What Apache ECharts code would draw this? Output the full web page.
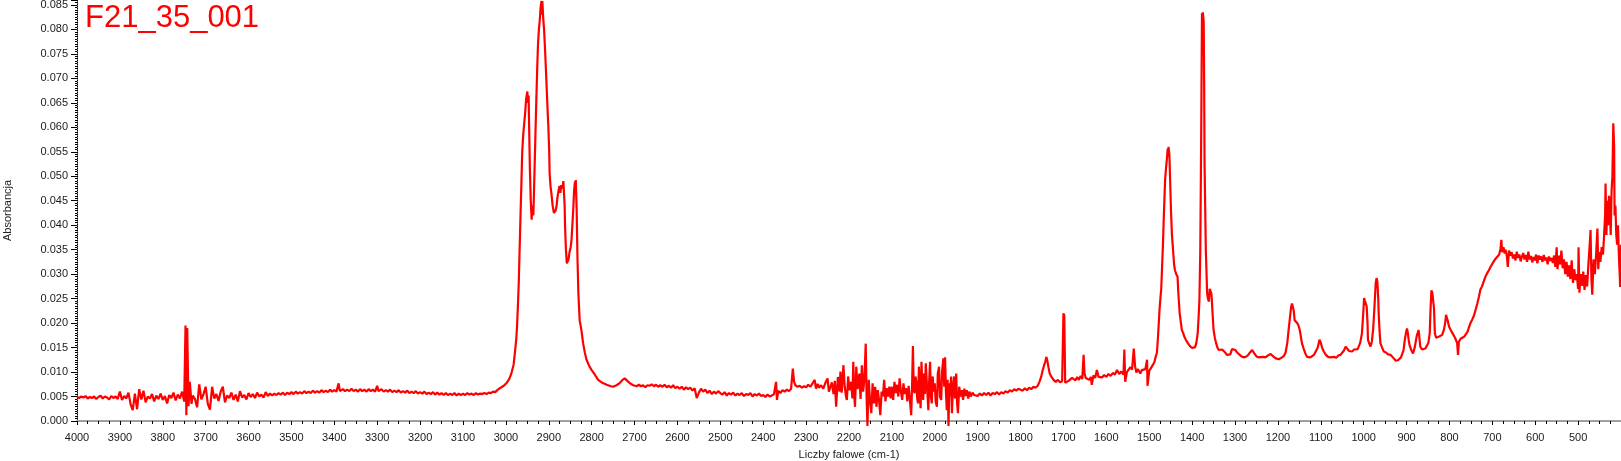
<!DOCTYPE html>
<html>
<head>
<meta charset="utf-8">
<title>F21_35_001</title>
<script src="https://cdn.jsdelivr.net/npm/echarts@6/dist/echarts.min.js"></script>
<style>
  html, body { margin: 0; padding: 0; background: #fff; }
  #chart { width: 1621px; height: 461px; }
</style>
</head>
<body>
<div id="chart"></div>
<script>
// widma IR: pary [liczba falowa, absorbancja]
const sampleName = 'F21_35_001'

// 4000 - 3550, zaszumiona linia bazowa z pikiem ~3745
const regionHighNoise = [
  [4000, .0049], [3995, .0047], [3990, .0050], [3985, .0048], [3980, .0051], [3975, .0046], [3970, .0049],
  [3965, .0047], [3960, .0050], [3955, .0045], [3950, .0049], [3945, .0052], [3940, .0046], [3935, .0050],
  [3930, .0048], [3925, .0044], [3920, .0051], [3915, .0047], [3910, .0050], [3905, .0045], [3900, .0060],
  [3895, .0043], [3890, .0051], [3885, .0046], [3880, .0058], [3875, .0034], [3870, .0022], [3865, .0056],
  [3860, .0024], [3855, .0065], [3850, .0044], [3845, .0062], [3840, .0038], [3835, .0050], [3830, .0046],
  [3825, .0055], [3820, .0040], [3815, .0052], [3810, .0045], [3805, .0056], [3800, .0043], [3795, .0051],
  [3790, .0036], [3785, .0053], [3780, .0047], [3775, .0058], [3770, .0042], [3765, .0054], [3760, .0046],
  [3755, .0060], [3750, .0040], [3747, .0195], [3745, .0012], [3743, .0190], [3740, .0030], [3737, .0080],
  [3733, .0035], [3730, .0052], [3725, .0045], [3720, .0028], [3715, .0075], [3710, .0044], [3705, .0055],
  [3700, .0070], [3695, .0035], [3690, .0023], [3685, .0070], [3680, .0046], [3675, .0055], [3670, .0041],
  [3665, .0060], [3660, .0070], [3655, .0038], [3650, .0052], [3645, .0047], [3640, .0058], [3635, .0043],
  [3630, .0054], [3625, .0040], [3620, .0061], [3615, .0048], [3610, .0053], [3605, .0044], [3600, .0057],
  [3595, .0049], [3590, .0055], [3585, .0047], [3580, .0058], [3575, .0050], [3570, .0054], [3565, .0048],
  [3560, .0059], [3555, .0051], [3550, .0056]
]

// 3545 - 3020, gladsza linia bazowa
const regionHighBase = [
  [3545, .0052], [3540, .0056], [3535, .0053], [3530, .0057], [3525, .0054], [3520, .0058], [3515, .0053],
  [3510, .0058], [3505, .0055], [3500, .0059], [3495, .0055], [3490, .0060], [3485, .0056], [3480, .0059],
  [3475, .0056], [3470, .0061], [3465, .0057], [3460, .0060], [3455, .0057], [3450, .0062], [3445, .0058],
  [3440, .0061], [3435, .0058], [3430, .0063], [3425, .0059], [3420, .0062], [3415, .0059], [3410, .0064],
  [3405, .0060], [3400, .0063], [3395, .0060], [3390, .0077], [3387, .0061], [3380, .0065], [3375, .0061],
  [3370, .0064], [3365, .0061], [3360, .0066], [3355, .0061], [3350, .0064], [3345, .0060], [3340, .0065],
  [3335, .0061], [3330, .0064], [3325, .0060], [3320, .0065], [3315, .0061], [3310, .0064], [3305, .0060],
  [3300, .0072], [3297, .0061], [3290, .0065], [3285, .0060], [3280, .0063], [3275, .0060], [3270, .0064],
  [3265, .0059], [3260, .0062], [3255, .0059], [3250, .0063], [3245, .0058], [3240, .0061], [3235, .0058],
  [3230, .0062], [3225, .0057], [3220, .0060], [3215, .0057], [3210, .0061], [3205, .0056], [3200, .0059],
  [3195, .0056], [3190, .0060], [3185, .0055], [3180, .0058], [3175, .0055], [3170, .0059], [3165, .0054],
  [3160, .0058], [3155, .0054], [3150, .0057], [3145, .0053], [3140, .0057], [3135, .0053], [3130, .0056],
  [3125, .0053], [3120, .0057], [3115, .0052], [3110, .0056], [3105, .0053], [3100, .0056], [3095, .0053],
  [3090, .0057], [3085, .0054], [3080, .0056], [3075, .0053], [3070, .0057], [3065, .0054], [3060, .0056],
  [3055, .0055], [3050, .0057], [3045, .0055], [3040, .0058], [3035, .0057], [3030, .0060], [3025, .0059],
  [3020, .0063]
]

// 3014 - 2555, pasma C-H
const regionCH = [
  [3014, .0067], [3005, .0072], [2999, .0077], [2992, .0086], [2987, .0098], [2982, .0115], [2979, .0139],
  [2976, .0165], [2974, .0193], [2972, .0235], [2970, .0282], [2968, .0350], [2966, .0417], [2964, .0480],
  [2962, .0547], [2960, .0580], [2958, .0601], [2955, .0630], [2953, .0656], [2951, .0668], [2950, .0673],
  [2948, .0650], [2947, .0665], [2946, .0610], [2944, .0513], [2942, .0450], [2940, .0411], [2938, .0440],
  [2936, .0420], [2935, .0451], [2933, .0520], [2931, .0590], [2929, .0656], [2927, .0720], [2925, .0772],
  [2923, .0800], [2921, .0819], [2919, .0845], [2917, .0858], [2916, .0830], [2915, .0858], [2913, .0823],
  [2911, .0800], [2909, .0765], [2907, .0725], [2905, .0683], [2903, .0640], [2901, .0601], [2899, .0550],
  [2898, .0506], [2896, .0480], [2894, .0466], [2891, .0440], [2888, .0425], [2886, .0422], [2884, .0430],
  [2882, .0438], [2880, .0455], [2877, .0472], [2875, .0480], [2873, .0466], [2871, .0482], [2868, .0475],
  [2866, .0490], [2865, .0486], [2863, .0440], [2862, .0397], [2860, .0350], [2858, .0322], [2856, .0318],
  [2854, .0330], [2852, .0343], [2849, .0355], [2847, .0370], [2845, .0400], [2843, .0431], [2841, .0470],
  [2839, .0489], [2838, .0475], [2837, .0492], [2835, .0431], [2833, .0330], [2831, .0261], [2828, .0206],
  [2824, .0186], [2820, .0159], [2816, .0140], [2812, .0125], [2806, .0113], [2800, .0104], [2792, .0094],
  [2785, .0084], [2775, .0078], [2765, .0074], [2755, .0071], [2750, .0070], [2742, .0073], [2734, .0078],
  [2728, .0084], [2723, .0087], [2718, .0083], [2711, .0077], [2703, .0073], [2695, .0071], [2690, .0074],
  [2685, .0071], [2680, .0073], [2675, .0069], [2670, .0073], [2665, .0072], [2660, .0075], [2655, .0071],
  [2650, .0074], [2645, .0070], [2640, .0073], [2635, .0070], [2630, .0074], [2625, .0069], [2620, .0072],
  [2615, .0068], [2610, .0073], [2605, .0067], [2600, .0070], [2595, .0066], [2590, .0070], [2585, .0064],
  [2580, .0069], [2575, .0065], [2570, .0068], [2565, .0062], [2560, .0067], [2555, .0047]
]

// 2550 - 1805, szum w zakresie 2250 - 1940
const regionMid = [
  [2550, .0058], [2545, .0066], [2540, .0060], [2535, .0064], [2530, .0057], [2525, .0062], [2520, .0055],
  [2515, .0060], [2510, .0056], [2505, .0061], [2500, .0057], [2495, .0054], [2490, .0059], [2485, .0052],
  [2480, .0057], [2475, .0054], [2470, .0058], [2465, .0052], [2460, .0056], [2455, .0053], [2450, .0057],
  [2445, .0051], [2440, .0055], [2435, .0053], [2430, .0057], [2425, .0050], [2420, .0055], [2415, .0052],
  [2410, .0056], [2405, .0051], [2400, .0053], [2395, .0049], [2390, .0054], [2385, .0050], [2380, .0052],
  [2375, .0055], [2370, .0080], [2368, .0043], [2365, .0062], [2360, .0057], [2355, .0063], [2350, .0060],
  [2345, .0064], [2340, .0061], [2335, .0066], [2331, .0107], [2328, .0080], [2325, .0073], [2320, .0070],
  [2315, .0072], [2310, .0068], [2305, .0071], [2300, .0069], [2295, .0074], [2290, .0070], [2285, .0077],
  [2280, .0084], [2277, .0066], [2273, .0076], [2270, .0068], [2265, .0073], [2260, .0066], [2255, .0078],
  [2250, .0087], [2247, .0060], [2243, .0070], [2240, .0079], [2236, .0055], [2233, .0082], [2230, .0029],
  [2226, .0090], [2222, .0060], [2220, .0101], [2217, .0058], [2213, .0114], [2210, .0070], [2207, .0050],
  [2205, .0043], [2202, .0091], [2199, .0063], [2195, .0080], [2192, .0046], [2190, .0121], [2188, .0055],
  [2186, .0029], [2183, .0111], [2180, .0065], [2176, .0097], [2173, .0045], [2170, .0114], [2167, .0060],
  [2164, .0087], [2161, .0158], [2159, .0050], [2157, -.0010], [2154, .0084], [2151, .0040], [2148, .0016],
  [2145, .0077], [2142, .0036], [2139, .0070], [2136, .0029], [2133, .0063], [2130, .0043], [2127, .0012],
  [2124, .0060], [2121, .0050], [2118, .0084], [2115, .0040], [2112, .0067], [2109, .0050], [2106, .0070],
  [2103, .0046], [2100, .0070], [2097, .0043], [2094, .0080], [2091, .0057], [2088, .0074], [2085, .0050],
  [2082, .0087], [2079, .0060], [2076, .0043], [2073, .0077], [2070, .0055], [2067, .0067], [2064, .0040],
  [2061, .0072], [2058, .0043], [2055, .0012], [2053, .0070], [2051, .0153], [2049, .0063], [2047, .0057],
  [2045, .0091], [2043, .0080], [2041, .0046], [2039, .0036], [2037, .0111], [2035, .0060], [2033, .0026],
  [2031, .0121], [2029, .0065], [2027, .0043], [2025, .0097], [2023, .0055], [2021, .0118], [2018, .0070],
  [2015, .0022], [2013, .0084], [2011, .0121], [2009, .0050], [2007, .0036], [2005, .0091], [2002, .0060],
  [2000, .0077], [1998, .0040], [1995, .0029], [1993, .0097], [1990, .0111], [1988, .0050], [1985, .0043],
  [1983, .0101], [1980, .0128], [1978, .0070], [1976, .0130], [1974, .0060], [1972, .0022], [1970, .0084],
  [1968, -.0010], [1966, .0077], [1964, .0050], [1962, .0091], [1960, .0016], [1958, .0063], [1955, .0091],
  [1953, .0046], [1950, .0097], [1948, .0036], [1946, .0016], [1943, .0070], [1940, .0050], [1937, .0063],
  [1934, .0043], [1931, .0066], [1928, .0051], [1925, .0063], [1922, .0046], [1919, .0060], [1916, .0050],
  [1912, .0058], [1908, .0053], [1904, .0057], [1900, .0051], [1895, .0056], [1890, .0052], [1885, .0057],
  [1880, .0053], [1875, .0058], [1870, .0052], [1865, .0057], [1860, .0055], [1855, .0059], [1850, .0054],
  [1845, .0059], [1840, .0056], [1835, .0061], [1830, .0058], [1825, .0063], [1820, .0060], [1815, .0065],
  [1810, .0062], [1805, .0066]
]

// 1800 - 1245, pasma CH2 / CH3
const regionBend = [
  [1800, .0064], [1795, .0062], [1790, .0067], [1785, .0063], [1780, .0068], [1775, .0065], [1770, .0070],
  [1765, .0068], [1760, .0072], [1756, .0080], [1752, .0090], [1748, .0105], [1745, .0114], [1742, .0122],
  [1740, .0131], [1738, .0125], [1735, .0110], [1732, .0097], [1728, .0090], [1723, .0084], [1718, .0080],
  [1713, .0084], [1708, .0079], [1703, .0081], [1700, .0220], [1698, .0215], [1696, .0078], [1692, .0077],
  [1688, .0082], [1684, .0079], [1680, .0088], [1676, .0091], [1672, .0083], [1668, .0090], [1664, .0084],
  [1660, .0092], [1656, .0086], [1653, .0135], [1651, .0098], [1648, .0088], [1644, .0092], [1640, .0084],
  [1636, .0090], [1634, .0074], [1630, .0093], [1626, .0088], [1622, .0104], [1618, .0090], [1614, .0093],
  [1610, .0089], [1605, .0094], [1600, .0090], [1595, .0096], [1590, .0092], [1585, .0098], [1580, .0095],
  [1575, .0104], [1570, .0096], [1565, .0101], [1560, .0095], [1558, .0146], [1556, .0080], [1552, .0100],
  [1548, .0096], [1544, .0110], [1540, .0105], [1536, .0148], [1533, .0112], [1530, .0099], [1526, .0106],
  [1521, .0097], [1517, .0104], [1513, .0100], [1509, .0106], [1505, .0125], [1504, .0072], [1500, .0102],
  [1496, .0108], [1492, .0104], [1488, .0120], [1485, .0131], [1482, .0140], [1480, .0165], [1476, .0227],
  [1474, .0250], [1472, .0270], [1470, .0315], [1468, .0360], [1466, .0417], [1463, .0492], [1461, .0515],
  [1459, .0533], [1457, .0556], [1456, .0540], [1455, .0560], [1453, .0545], [1451, .0547], [1449, .0424],
  [1447, .0380], [1445, .0356], [1442, .0320], [1440, .0308], [1437, .0300], [1434, .0295], [1432, .0260],
  [1429, .0220], [1426, .0200], [1424, .0186], [1421, .0180], [1418, .0172], [1414, .0165], [1410, .0159],
  [1405, .0153], [1400, .0149], [1396, .0148], [1393, .0151], [1390, .0160], [1387, .0179], [1385, .0210],
  [1383, .0247], [1381, .0343], [1379, .0560], [1377, .0833], [1376, .0810], [1375, .0835], [1373, .0816],
  [1372, .0700], [1371, .0526], [1368, .0349], [1365, .0261], [1363, .0250], [1361, .0244], [1359, .0270],
  [1357, .0274], [1355, .0260], [1354, .0247], [1352, .0215], [1350, .0186], [1347, .0170], [1344, .0159],
  [1341, .0150], [1338, .0145], [1334, .0143], [1330, .0146], [1327, .0145], [1323, .0140], [1319, .0135],
  [1315, .0131], [1311, .0136], [1307, .0147], [1303, .0151], [1299, .0145], [1295, .0140], [1291, .0138],
  [1285, .0132], [1280, .0130], [1275, .0131], [1270, .0134], [1265, .0140], [1260, .0145], [1255, .0138],
  [1250, .0132], [1245, .0130]
]

// 1241 - 801, obszar odcisku palca
const regionFinger = [
  [1241, .0128], [1235, .0131], [1229, .0130], [1223, .0134], [1217, .0137], [1211, .0132], [1205, .0128],
  [1198, .0126], [1192, .0129], [1186, .0133], [1182, .0140], [1178, .0160], [1175, .0186], [1172, .0210],
  [1169, .0234], [1167, .0240], [1165, .0239], [1163, .0225], [1161, .0206], [1158, .0203], [1155, .0200],
  [1152, .0195], [1149, .0186], [1146, .0170], [1144, .0159], [1140, .0148], [1136, .0138], [1132, .0131],
  [1128, .0128], [1124, .0130], [1120, .0132], [1116, .0135], [1112, .0138], [1107, .0150], [1103, .0166],
  [1100, .0160], [1097, .0150], [1093, .0142], [1088, .0135], [1083, .0131], [1078, .0130], [1074, .0128],
  [1069, .0131], [1064, .0129], [1059, .0134], [1054, .0135], [1050, .0138], [1046, .0144], [1042, .0152],
  [1038, .0148], [1034, .0143], [1030, .0140], [1027, .0142], [1022, .0146], [1018, .0143], [1014, .0147],
  [1011, .0148], [1008, .0160], [1004, .0179], [1001, .0220], [999, .0251], [997, .0245], [995, .0240],
  [993, .0234], [991, .0200], [990, .0166], [987, .0158], [984, .0152], [981, .0162], [978, .0186],
  [975, .0230], [972, .0281], [970, .0292], [968, .0285], [966, .0250], [965, .0220], [963, .0185],
  [961, .0159], [957, .0150], [953, .0142], [948, .0140], [943, .0136], [937, .0135], [932, .0130],
  [928, .0127], [925, .0123], [923, .0121], [920, .0124], [916, .0126], [913, .0130], [910, .0131],
  [907, .0145], [904, .0166], [901, .0182], [899, .0189], [897, .0180], [895, .0165], [893, .0155],
  [889, .0145], [885, .0138], [881, .0150], [878, .0165], [876, .0175], [874, .0180], [872, .0186],
  [870, .0170], [868, .0152], [864, .0146], [860, .0142], [856, .0148], [852, .0152], [849, .0160],
  [846, .0179], [844, .0230], [842, .0267], [840, .0262], [838, .0261], [836, .0230], [834, .0179],
  [831, .0170], [829, .0166], [825, .0172], [821, .0169], [817, .0176], [813, .0186], [810, .0200],
  [808, .0217], [806, .0213], [804, .0205], [801, .0193]
]

// 797 - 400, szeroki garb i szum przy koncu zakresu
const regionLow = [
  [797, .0186], [792, .0178], [787, .0170], [782, .0159], [780, .0135], [778, .0162], [774, .0168],
  [770, .0165], [766, .0172], [762, .0176], [758, .0182], [755, .0190], [751, .0200], [747, .0207],
  [743, .0215], [739, .0227], [735, .0240], [731, .0255], [728, .0268], [724, .0275], [720, .0285],
  [716, .0295], [712, .0302], [708, .0308], [704, .0315], [700, .0318], [696, .0327], [692, .0332],
  [688, .0335], [684, .0340], [681, .0352], [679, .0370], [677, .0345], [674, .0355], [671, .0342],
  [669, .0350], [666, .0336], [664, .0315], [661, .0348], [658, .0338], [655, .0345], [652, .0332],
  [649, .0340], [646, .0328], [643, .0346], [640, .0333], [637, .0340], [634, .0326], [631, .0336],
  [628, .0343], [625, .0330], [622, .0339], [619, .0325], [616, .0346], [613, .0330], [610, .0337],
  [607, .0324], [604, .0335], [601, .0328], [598, .0340], [595, .0322], [592, .0338], [589, .0330],
  [586, .0336], [583, .0325], [580, .0339], [577, .0328], [574, .0334], [571, .0320], [568, .0336],
  [565, .0327], [562, .0333], [559, .0323], [556, .0338], [553, .0315], [550, .0355], [548, .0310],
  [545, .0338], [542, .0320], [539, .0348], [536, .0312], [533, .0330], [530, .0300], [527, .0325],
  [524, .0295], [521, .0318], [518, .0290], [515, .0328], [512, .0282], [509, .0310], [506, .0288],
  [503, .0300], [500, .0270], [499, .0355], [497, .0262], [494, .0300], [491, .0276], [488, .0305],
  [485, .0268], [482, .0298], [479, .0275], [476, .0320], [473, .0360], [471, .0390], [469, .0290],
  [467, .0258], [464, .0330], [461, .0300], [458, .0340], [455, .0393], [453, .0310], [451, .0345],
  [448, .0325], [445, .0355], [442, .0340], [440, .0370], [437, .0420], [436, .0485], [434, .0380],
  [432, .0450], [430, .0400], [428, .0460], [426, .0440], [424, .0380], [422, .0470], [420, .0500],
  [418, .0608], [416, .0560], [415, .0420], [413, .0440], [411, .0380], [409, .0360], [407, .0400],
  [405, .0340], [403, .0300], [402, .0274], [400, .0360]
]

const spectrum = [].concat(regionHighNoise, regionHighBase, regionCH, regionMid, regionBend, regionFinger, regionLow)

const labelFont = 'Liberation Sans'

const chartEl = document.getElementById('chart')
const myChart = echarts.init(chartEl)
const option = {
  animation: false,
  backgroundColor: '#fff',
  title: {
    text: sampleName,
    left: 80,
    top: -2,
    textStyle: {
      color: '#ff0000',
      fontSize: 31,
      fontWeight: 'normal',
      fontFamily: labelFont
    }
  },
  grid: {
    left: 77,
    right: 0,
    top: 0,
    bottom: 40,
    outerBoundsMode: 'none',
    containLabel: false
  },
  xAxis: {
    type: 'value',
    inverse: true,
    min: 400,
    max: 4000,
    interval: 100,
    offset: 6,
    name: 'Liczby falowe (cm-1)',
    nameLocation: 'middle',
    nameGap: 22,
    nameTextStyle: { color: '#222', fontSize: 11, fontFamily: labelFont },
    axisLine: { lineStyle: { color: '#a0a0a0', width: 2 } },
    axisTick: { length: 4, lineStyle: { color: '#000' } },
    minorTick: { show: true, splitNumber: 4, length: 3, lineStyle: { color: '#000' } },
    splitLine: { show: false },
    axisLabel: {
      showMinLabel: false,
      margin: 5,
      color: '#1a1a1a',
      fontSize: 11,
      fontFamily: labelFont,
      formatter: (v) => String(v)
    }
  },
  yAxis: {
    type: 'value',
    min: 0,
    max: 0.086,
    interval: 0.005,
    name: 'Absorbancja',
    nameLocation: 'middle',
    nameGap: 64,
    nameTextStyle: { color: '#222', fontSize: 11, fontFamily: labelFont },
    axisLine: { show: true, lineStyle: { color: '#000', width: 1, type: 'dotted' } },
    axisTick: { length: 6, lineStyle: { color: '#000' } },
    minorTick: { show: true, splitNumber: 10, length: 2, lineStyle: { color: '#000' } },
    splitLine: { show: false },
    axisLabel: {
      showMaxLabel: false,
      margin: 9,
      color: '#1a1a1a',
      fontSize: 11,
      fontFamily: labelFont,
      formatter: (v) => v.toFixed(3)
    }
  },
  series: [
    {
      type: 'line',
      data: spectrum,
      showSymbol: false,
      clip: false,
      lineStyle: { color: '#ff0000', width: 2.2 },
      itemStyle: { color: '#ff0000' }
    }
  ]
}
myChart.setOption(option)
</script>
</body>
</html>
